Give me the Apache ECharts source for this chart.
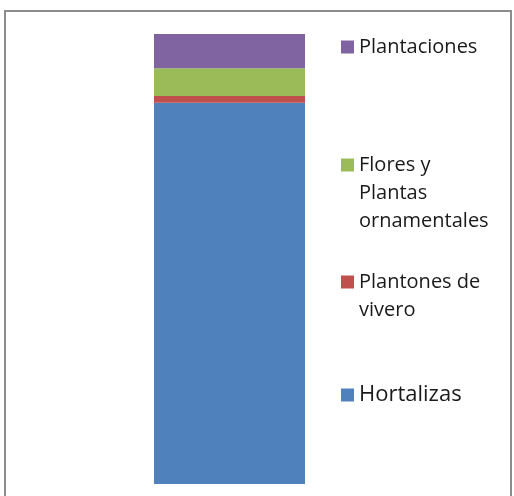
<!DOCTYPE html>
<html>
<head>
<meta charset="utf-8">
<script src="https://cdn.jsdelivr.net/npm/echarts@6/dist/echarts.min.js"></script>
<style>
  html, body { margin: 0; padding: 0; background: #fff; }
  #chart { width: 514px; height: 496px; }
</style>
</head>
<body>
<div id="chart"></div>
<script>
// Single 100% stacked column: share of each crop group
const categories = ['Total'];
const seriesNames = ['Hortalizas', 'Plantones de vivero', 'Flores y Plantas ornamentales', 'Plantaciones'];
const hortalizas = [84.7];
const plantones = [1.5];
const flores = [6.2];
const plantaciones = [7.6];
const seriesValues = [hortalizas, plantones, flores, plantaciones];
const colors = ['#4F81BD', '#C0504D', '#9BBB59', '#8064A2'];

// Legend text as shown beside the column (line breaks included)
const legendLabels = {
  'Plantaciones': 'Plantaciones',
  'Flores y Plantas ornamentales': 'Flores y\nPlantas\nornamentales',
  'Plantones de vivero': 'Plantones de\nvivero',
  'Hortalizas': 'Hortalizas'
};

const chart = echarts.init(document.getElementById('chart'));
const LINE_H = 28;
const FONT = '"Open Sans", sans-serif';

// One legend block per entry. Legend text is centred on its marker, so
// empty lines are put in front of multi-line labels to keep the marker
// level with the first line.
function legendBlock(name, iconCenterY, fontSize) {
  const lines = legendLabels[name].split('\n').length;
  const totalLines = 2 * lines - 1;
  const lead = '\n'.repeat(lines - 1);
  return {
    data: [name],
    left: 341,
    top: iconCenterY - (totalLines * LINE_H) / 2,
    padding: 0,
    icon: 'rect',
    itemWidth: 13,
    itemHeight: 13,
    selectedMode: false,
    formatter: n => lead + legendLabels[n],
    textStyle: {
      fontFamily: FONT,
      fontSize: fontSize,
      color: '#1a1a1a',
      lineHeight: LINE_H
    }
  };
}

chart.setOption({
  animation: false,
  backgroundColor: '#fff',
  color: colors,
  graphic: [{
    type: 'rect',
    shape: { x: 5, y: 11, width: 506, height: 500 },
    style: { fill: 'none', stroke: '#8c8c8c', lineWidth: 2 },
    silent: true
  }],
  legend: [
    legendBlock('Plantaciones', 47, 20),
    legendBlock('Flores y Plantas ornamentales', 165, 20),
    legendBlock('Plantones de vivero', 282, 20),
    legendBlock('Hortalizas', 395, 22)
  ],
  grid: { left: 154, top: 34, width: 151, height: 450 },
  xAxis: {
    type: 'category',
    data: categories,
    show: false
  },
  yAxis: {
    type: 'value',
    min: 0,
    max: 100,
    show: false
  },
  series: seriesNames.map((name, i) => ({
    name: name,
    type: 'bar',
    stack: 'total',
    barWidth: '100%',
    data: seriesValues[i],
    itemStyle: { color: colors[i] }
  }))
});
</script>
</body>
</html>
